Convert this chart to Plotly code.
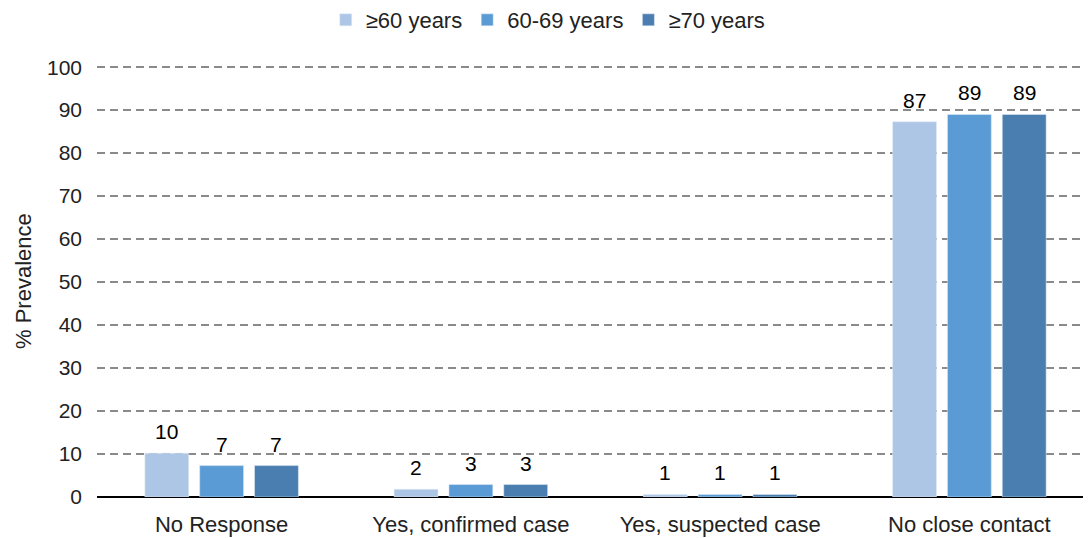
import plotly.graph_objects as go

# Categories and series values (% prevalence)
categories = ["No Response", "Yes, confirmed case", "Yes, suspected case", "No close contact"]
series_names = ["≥60 years", "60-69 years", "≥70 years"]
ge60 = [10.2, 1.8, 0.6, 87.3]
age60_69 = [7.3, 2.9, 0.6, 89.0]
ge70 = [7.3, 2.9, 0.6, 89.0]
labels_ge60 = ["10", "2", "1", "87"]
labels_60_69 = ["7", "3", "1", "89"]
labels_ge70 = ["7", "3", "1", "89"]

colors = ["#AEC6E6", "#5B9BD5", "#4A7EB0"]
bargap = 0.34

fig = go.Figure()
all_vals = [ge60, age60_69, ge70]
all_labels = [labels_ge60, labels_60_69, labels_ge70]
for name, vals, col in zip(series_names, all_vals, colors):
    fig.add_trace(go.Bar(x=categories, y=vals, name=name, marker_color=col))

# value labels above the bars (a bit more gap than bar text gives)
slot = (1 - bargap) / len(series_names)
for j, (vals, labs) in enumerate(zip(all_vals, all_labels)):
    for i, (v, lab) in enumerate(zip(vals, labs)):
        fig.add_annotation(x=i + (j - 1) * slot, y=v, text=lab, showarrow=False,
                           yanchor="bottom", yshift=8,
                           font=dict(size=21, color="black"))

# y axis title as a rotated annotation
fig.add_annotation(text="% Prevalence", xref="paper", yref="paper", x=0, y=0.5,
                   xanchor="center", yanchor="middle", xshift=-74, textangle=-90,
                   showarrow=False, font=dict(size=22, color="#222"))

fig.update_layout(
    # page body adds an 8px margin, so the figure is shifted to compensate
    width=1087, height=530,
    margin=dict(l=89, r=1, t=57, b=41, autoexpand=False),
    paper_bgcolor="white", plot_bgcolor="white",
    font=dict(family="Liberation Sans, Arial", size=22, color="#222"),
    barmode="group", bargap=bargap, bargroupgap=0.2,
    showlegend=True,
    legend=dict(orientation="h", xref="container", x=0.497, xanchor="center",
                y=1.104, yanchor="middle", font=dict(size=22),
                itemwidth=30, traceorder="normal"),
    xaxis=dict(showline=False, ticks="", tickfont=dict(size=22), ticklabelstandoff=12),
    yaxis=dict(range=[0, 100.5], tickvals=list(range(0, 101, 10)), showgrid=True,
               gridcolor="#8a8a8a", griddash="8px,5px", gridwidth=1.6,
               zeroline=True, zerolinecolor="black", zerolinewidth=1.5,
               ticks="", ticklabelstandoff=14, tickfont=dict(size=21)),
)

fig.write_html("out.html")
